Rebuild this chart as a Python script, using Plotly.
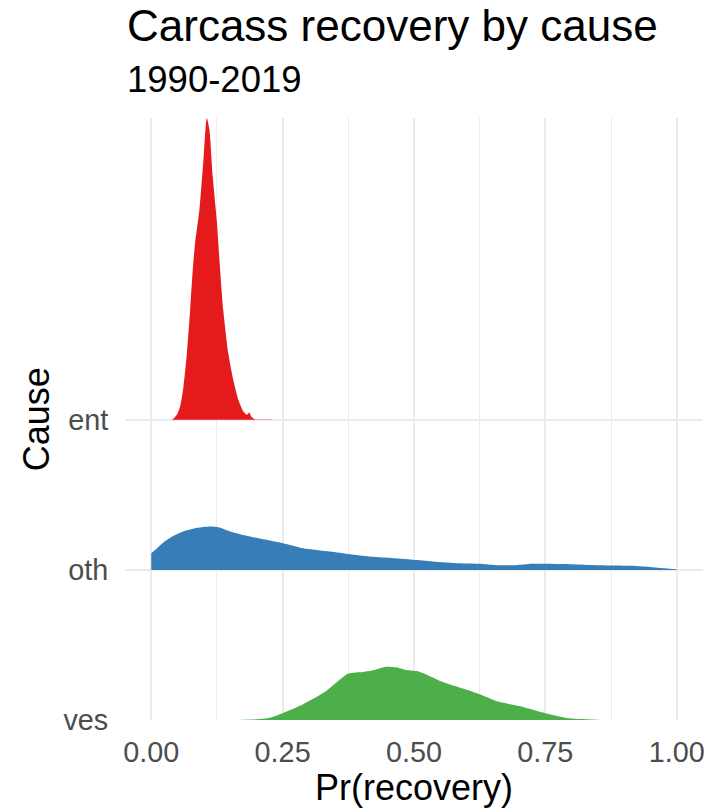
import plotly.graph_objects as go

# Posterior density of carcass-recovery probability, per cause of death
causes = ["ves", "oth", "ent"]
fill_colors = {"ent": "#E41A1C", "oth": "#377EB8", "ves": "#4DAF4A"}

ent_x = [0.038, 0.041, 0.0487, 0.055, 0.0613, 0.0677, 0.074, 0.079, 0.0835, 0.0917,
         0.0993, 0.1057, 0.1107, 0.117, 0.1246, 0.131, 0.137, 0.1467, 0.156, 0.1657,
         0.175, 0.1816, 0.1866, 0.191, 0.197, 0.229]
ent_d = [0.0, 0.04, 0.33, 0.9, 2.2, 4.4, 7.3, 10.0, 11.8, 14.0,
         17.3, 20.1, 19.3, 16.2, 13.3, 10.0, 7.3, 4.4, 2.67, 1.33,
         0.56, 0.33, 0.49, 0.18, 0.04, 0.02]

oth_x = [0.0, 0.011, 0.023, 0.0425, 0.061, 0.087, 0.112, 0.128, 0.150, 0.175,
         0.213, 0.251, 0.289, 0.340, 0.378, 0.415, 0.453, 0.498, 0.536, 0.586,
         0.625, 0.656, 0.694, 0.725, 0.795, 0.852, 0.915, 0.953, 1.0]
oth_d = [1.11, 1.44, 1.82, 2.27, 2.56, 2.8, 2.89, 2.84, 2.56, 2.33,
         2.04, 1.78, 1.44, 1.22, 1.04, 0.89, 0.8, 0.67, 0.56, 0.44,
         0.40, 0.31, 0.31, 0.40, 0.38, 0.31, 0.27, 0.18, 0.04]

ves_x = [0.163, 0.200, 0.226, 0.25, 0.289, 0.333, 0.375, 0.403, 0.422, 0.447,
         0.466, 0.485, 0.510, 0.555, 0.593, 0.625, 0.656, 0.700, 0.75, 0.795,
         0.846, 0.890]
ves_d = [0.0, 0.05, 0.15, 0.45, 1.05, 1.93, 3.09, 3.2, 3.31, 3.55,
         3.51, 3.33, 3.22, 2.53, 2.09, 1.71, 1.27, 0.93, 0.45, 0.11,
         0.02, 0.0]

x_ticks = [0.0, 0.25, 0.5, 0.75, 1.0]
x_tick_labels = ["0.00", "0.25", "0.50", "0.75", "1.00"]

RIDGE_SCALE = 0.1  # ridge height (in category units) per unit of density

series = {"ent": (ent_x, ent_d), "oth": (oth_x, oth_d), "ves": (ves_x, ves_d)}

fig = go.Figure()
for cause in ["ves", "oth", "ent"]:
    xs, ds = series[cause]
    base = causes.index(cause) + 1
    # baseline of the ridge, then the density curve filled down to it
    fig.add_trace(go.Scatter(
        x=[xs[0], xs[-1]], y=[base, base], mode="lines",
        line=dict(width=0, color=fill_colors[cause]),
        hoverinfo="skip", showlegend=False,
    ))
    fig.add_trace(go.Scatter(
        x=xs,
        y=[base + d * RIDGE_SCALE for d in ds],
        mode="lines",
        fill="tonexty",
        fillcolor=fill_colors[cause],
        line=dict(width=0, color=fill_colors[cause], shape="spline", smoothing=0.6),
        hoverinfo="skip",
        showlegend=False,
    ))

y_top = 3 + max(ent_d) * RIDGE_SCALE
FONT = "Liberation Sans, Arial, sans-serif"
GRID = "#EBEBEB"

fig.update_layout(
    width=716, height=811,
    margin=dict(l=125, r=11, t=118, b=91),
    paper_bgcolor="white", plot_bgcolor="white",
    font=dict(family=FONT, color="black"),
    xaxis=dict(
        range=[-0.05, 1.05], tickvals=x_ticks, ticktext=x_tick_labels,
        showgrid=True, gridcolor=GRID, gridwidth=2, zeroline=False,
        showline=False, ticks="outside", ticklen=6, tickcolor="rgba(0,0,0,0)",
        tickfont=dict(size=28.8, color="#4D4D4D", family=FONT),
        minor=dict(tickvals=[0.125, 0.375, 0.625, 0.875], showgrid=True,
                   gridcolor=GRID, gridwidth=1),
    ),
    yaxis=dict(
        range=[1, y_top], tickvals=[1, 2, 3], ticktext=causes,
        showgrid=True, gridcolor=GRID, gridwidth=2, zeroline=False,
        showline=False, ticks="outside", ticklen=10, tickcolor="rgba(0,0,0,0)",
        tickfont=dict(size=28.8, color="#4D4D4D", family=FONT),
    ),
    annotations=[
        dict(text="Carcass recovery by cause", xref="paper", yref="paper",
             x=0, y=(720 - 25) / 602, xanchor="left", yanchor="middle",
             showarrow=False, font=dict(size=44, family=FONT, color="black")),
        dict(text="1990-2019", xref="paper", yref="paper",
             x=0, y=(720 - 80) / 602, xanchor="left", yanchor="middle",
             showarrow=False, font=dict(size=36.5, family=FONT, color="black")),
        dict(text="Pr(recovery)", xref="paper", yref="paper",
             x=0.5, y=(720 - 787) / 602, xanchor="center", yanchor="middle",
             showarrow=False, font=dict(size=36, family=FONT, color="black")),
        dict(text="Cause", xref="paper", yref="paper",
             x=(36 - 125) / 580, y=0.5, xanchor="center", yanchor="middle",
             textangle=-90, showarrow=False,
             font=dict(size=36, family=FONT, color="black")),
    ],
)

fig.write_html("out.html")
